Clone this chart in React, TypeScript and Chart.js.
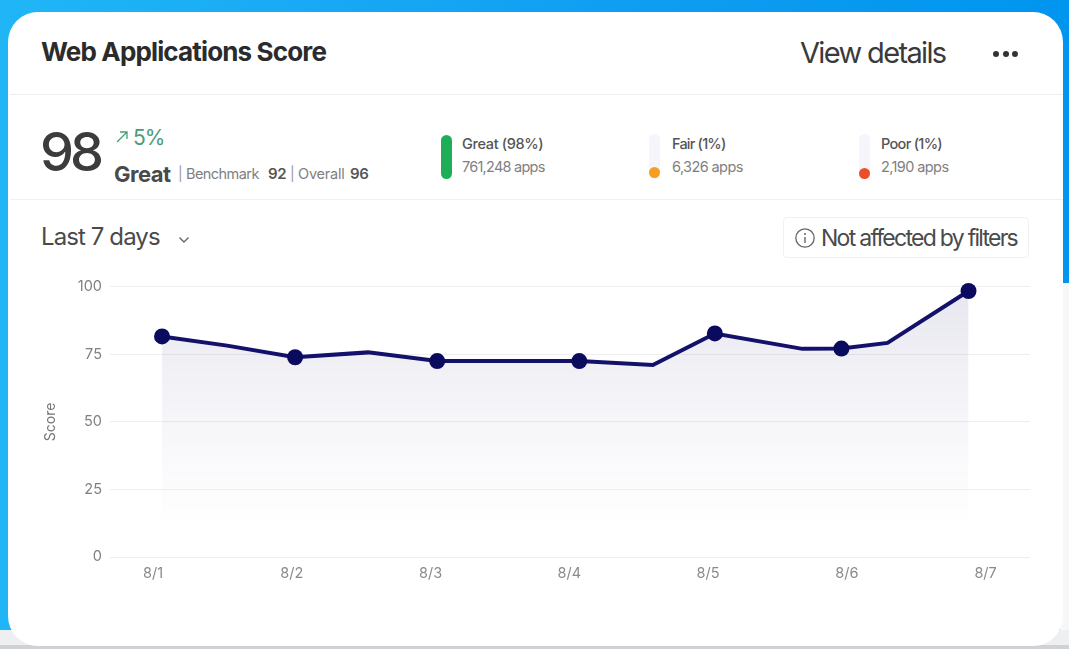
import React, { useEffect, useRef } from "react";
import { Chart, registerables } from "chart.js";

Chart.register(...registerables);

const tickDays = [1, 2, 3, 4, 5, 6, 7];
const yTicks = [0, 25, 50, 75, 100];
const pointDays = [1.065, 1.534, 2.024, 2.55, 3.048, 4.072, 4.602, 5.049, 5.68, 5.961, 6.293, 6.877];
const pointScores = [81.6, 78.2, 73.9, 75.7, 72.5, 72.5, 71, 82.7, 77, 77.1, 79.2, 98.4];
const pointMarked = [true, false, true, false, true, true, false, true, false, true, false, true];

const FONT = "Inter, 'Noto Sans', sans-serif";

function Txt(p: { x: number; y: number; s: number; w?: number; c?: string; ls?: number; children: React.ReactNode }) {
  return (
    <div
      style={{
        position: "absolute",
        left: p.x,
        top: p.y,
        fontSize: p.s,
        fontWeight: p.w ?? 400,
        color: p.c ?? "#333",
        letterSpacing: p.ls ?? 0,
        lineHeight: 1,
        whiteSpace: "nowrap",
      }}
    >
      {p.children}
    </div>
  );
}

export default function App() {
  const ref = useRef<HTMLCanvasElement>(null);

  useEffect(() => {
    document.body.style.margin = "0";
    const chart = new Chart(ref.current!, {
      type: "line",
      data: {
        datasets: [
          {
            data: pointDays.map((d, i) => ({ x: d, y: pointScores[i] })),
            borderColor: "#14116b",
            borderWidth: 4,
            tension: 0,
            clip: false,
            pointRadius: pointMarked.map((m) => (m ? 8 : 0)),
            pointBackgroundColor: "#0a0a5e",
            pointBorderWidth: 0,
            fill: "origin",
            backgroundColor: (ctx: any) => {
              const { chart: c } = ctx;
              const area = c.chartArea;
              if (!area) return "rgba(20,17,100,0.09)";
              const g = c.ctx.createLinearGradient(0, c.scales.y.getPixelForValue(100), 0, c.scales.y.getPixelForValue(12));
              g.addColorStop(0, "rgba(20,17,100,0.1)");
              g.addColorStop(0.55, "rgba(20,17,100,0.04)");
              g.addColorStop(1, "rgba(20,17,100,0)");
              return g;
            },
          },
        ],
      },
      options: {
        animation: false,
        responsive: false,
        layout: { autoPadding: false, padding: { top: 16.5, left: 0, right: 0, bottom: 0 } },
        plugins: { legend: { display: false }, tooltip: { enabled: false } },
        scales: {
          x: {
            type: "linear",
            min: 0.69,
            max: 7.32,
            afterBuildTicks: (s: any) => {
              s.ticks = tickDays.map((value) => ({ value }));
            },
            afterFit: (s: any) => {
              s.height = 43;
              s.paddingLeft = 0;
              s.paddingRight = 0;
            },
            grid: { display: false },
            border: { display: false },
            ticks: {
              color: "#8a8a8a",
              font: { family: FONT, size: 14.5 },
              padding: 0,
              maxRotation: 0,
              callback: (v: any) => `8/${v}`,
            },
          },
          y: {
            min: 0,
            max: 100,
            afterBuildTicks: (s: any) => {
              s.ticks = yTicks.map((value) => ({ value }));
            },
            afterFit: (s: any) => {
              s.width = 80;
            },
            grid: { color: "#efeff1", lineWidth: 1, drawTicks: false },
            border: { display: false },
            title: { display: true, text: "Score", color: "#777", font: { family: FONT, size: 14 }, padding: { top: 12, bottom: 0 } },
            ticks: { color: "#808080", font: { family: FONT, size: 14.5 }, padding: 8 },
          },
        },
      },
    });
    return () => chart.destroy();
  }, []);

  return (
    <div
      style={{
        position: "relative",
        width: 1069,
        height: 649,
        overflow: "hidden",
        fontFamily: FONT,
        background: "linear-gradient(90deg,#20b6f6 0%,#0f9df2 60%,#0095ee 100%)",
      }}
    >
      <div style={{ position: "absolute", left: 1060, top: 283, width: 9, height: 366, background: "#f6f7f9" }} />
      <div style={{ position: "absolute", left: 0, top: 630, width: 1069, height: 19, background: "#eeeff1" }} />
      <div style={{ position: "absolute", left: 0, top: 645, width: 1069, height: 4, background: "#cfd1d4" }} />
      <div style={{ position: "absolute", left: 8, top: 12, width: 1055, height: 634, background: "#fff", borderRadius: 30 }} />

      <Txt x={41} y={39} s={26} w={700} c="#2b2b2b" ls={-0.85}>Web Applications Score</Txt>
      <Txt x={800} y={38} s={29} c="#3a3a3a" ls={-1.65}>View details</Txt>
      {[995.5, 1005.5, 1015].map((x) => (
        <div key={x} style={{ position: "absolute", left: x - 3, top: 51, width: 6, height: 6, borderRadius: 3, background: "#333" }} />
      ))}
      <div style={{ position: "absolute", left: 10, top: 94, width: 1053, height: 1, background: "#eeeeee" }} />

      <Txt x={40} y={125} s={54} w={500} c="#3c3c3c" ls={-4}>98</Txt>
      <svg style={{ position: "absolute", left: 115, top: 130 }} width="14" height="14" viewBox="0 0 14 14">
        <path d="M2 12 L12 2 M5 2 H12 V9" fill="none" stroke="#4a9d77" strokeWidth="1.3" />
      </svg>
      <Txt x={133} y={127} s={21} c="#4a9d77" ls={-1}>5%</Txt>
      <Txt x={114} y={163} s={22} w={700} c="#4a4a4a" ls={-0.5}>Great</Txt>
      <Txt x={178} y={167} s={14} c="#9a9a9a">|</Txt>
      <Txt x={186} y={167} s={14.5} c="#7f7f7f" ls={-0.55}>Benchmark</Txt>
      <Txt x={268} y={166} s={15} w={600} c="#555" ls={-0.4}>92</Txt>
      <Txt x={290} y={167} s={14} c="#9a9a9a">|</Txt>
      <Txt x={298} y={167} s={14.5} c="#7f7f7f" ls={-0.2}>Overall</Txt>
      <Txt x={350} y={166} s={15} w={600} c="#555" ls={-0.4}>96</Txt>

      <div style={{ position: "absolute", left: 441, top: 135, width: 11, height: 44, borderRadius: 6, background: "#1fae58" }} />
      <Txt x={462} y={137} s={14.5} w={500} c="#555" ls={-0.35}>Great (98%)</Txt>
      <Txt x={462} y={160} s={14.5} c="#7f7f7f" ls={-0.75}>761,248 apps</Txt>

      <div style={{ position: "absolute", left: 649, top: 134, width: 11, height: 45, borderRadius: 6, background: "#f5f5fb" }} />
      <div style={{ position: "absolute", left: 649, top: 167, width: 11, height: 11, borderRadius: 6, background: "#f99d1e" }} />
      <Txt x={672} y={137} s={14.5} w={500} c="#555" ls={-0.8}>Fair (1%)</Txt>
      <Txt x={672} y={160} s={14.5} c="#7f7f7f" ls={-0.6}>6,326 apps</Txt>

      <div style={{ position: "absolute", left: 859, top: 134, width: 11, height: 45, borderRadius: 6, background: "#f5f5fb" }} />
      <div style={{ position: "absolute", left: 859, top: 168, width: 11, height: 11, borderRadius: 6, background: "#e8502c" }} />
      <Txt x={881} y={137} s={14.5} w={500} c="#555" ls={-0.7}>Poor (1%)</Txt>
      <Txt x={881} y={160} s={14.5} c="#7f7f7f" ls={-0.6}>2,190 apps</Txt>

      <div style={{ position: "absolute", left: 10, top: 199, width: 1053, height: 1, background: "#f0f0f0" }} />

      <Txt x={41} y={225} s={24} c="#4a4a4a" ls={-0.9}>Last 7 days</Txt>
      <svg style={{ position: "absolute", left: 178, top: 236 }} width="12" height="8" viewBox="0 0 12 8">
        <path d="M1.5 1.5 L6 6 L10.5 1.5" fill="none" stroke="#666" strokeWidth="1.4" />
      </svg>

      <div style={{ position: "absolute", left: 783, top: 217, width: 246, height: 41, boxSizing: "border-box", border: "1px solid #f1f1f3", borderRadius: 4 }} />
      <svg style={{ position: "absolute", left: 794, top: 227 }} width="22" height="22" viewBox="0 0 22 22">
        <circle cx="11" cy="11" r="9.2" fill="none" stroke="#666" strokeWidth="1.3" />
        <circle cx="11" cy="7" r="1" fill="#666" />
        <path d="M11 10 V16" stroke="#666" strokeWidth="1.4" />
      </svg>
      <Txt x={821} y={227} s={23} c="#4a4a4a" ls={-1.73}>Not affected by filters</Txt>

      <div style={{ position: "absolute", left: 30, top: 270, width: 1000, height: 330 }}>
        <canvas ref={ref} width={1000} height={330} style={{ display: "block" }} />
      </div>
    </div>
  );
}
